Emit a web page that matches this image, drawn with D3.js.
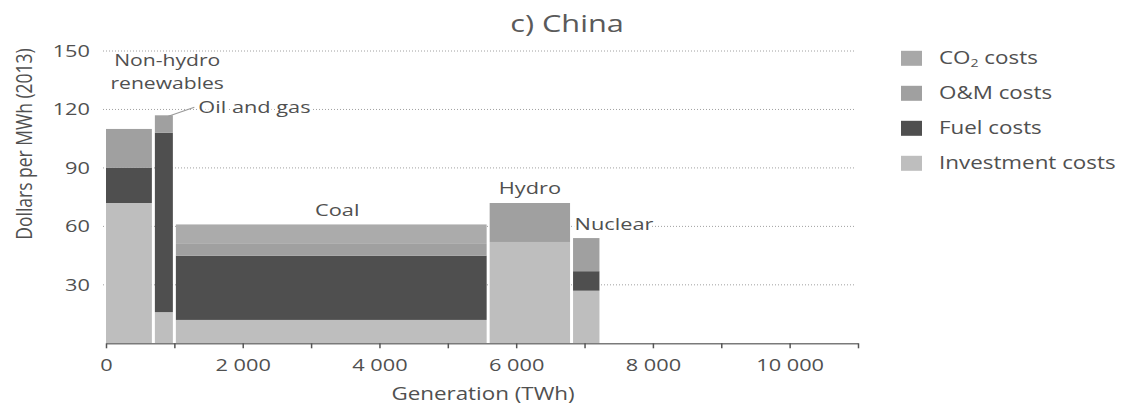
<!DOCTYPE html>
<html>
<head>
<meta charset="utf-8">
<script src="https://cdn.jsdelivr.net/npm/d3@7"></script>
<style>
  body { margin: 0; background: #fff; }
  text { font-family: "Open Sans", "DejaVu Sans", sans-serif; fill: #505050; }
</style>
</head>
<body>
<svg id="chart" width="1126" height="405"></svg>
<script>
// technologies, left to right along the generation axis
const techs = ["Non-hydro renewables", "Oil and gas", "Coal", "Hydro", "Nuclear"];
// generation (TWh) = bar widths
const generation = [693, 307, 4590, 1220, 430];
// cost components, dollars per MWh (2013)
const investment = [72, 16, 12, 52, 27];
const fuel       = [18, 92, 33, 0, 10];
const om         = [20, 9, 6, 20, 17];
const co2        = [0, 0, 10, 0, 0];

const yTicks = [30, 60, 90, 120, 150];
const legendLabels = ["CO2 costs", "O&M costs", "Fuel costs", "Investment costs"];

const SX = 1.28; // the reference is stretched sideways
const svg = d3.select("#chart");

const x = d3.scaleLinear().domain([0, 11000]).range([106, 858]);
const y = d3.scaleLinear().domain([0, 150]).range([343.3, 51]);

const series = [
  { key: "investment", vals: investment, color: "#bebebe" },
  { key: "fuel", vals: fuel, color: "#4f4f4f" },
  { key: "om", vals: om, color: "#a0a0a0" },
  { key: "co2", vals: co2, color: "#ababab" }
];

function label(sel, px, py, str, anchor, size) {
  return sel.append("text")
    .attr("transform", `translate(${px},${py}) scale(${SX},1)`)
    .attr("text-anchor", anchor)
    .attr("font-size", size)
    .text(str);
}

// grid
svg.append("g").selectAll("line")
  .data(yTicks).enter()
  .append("line")
  .attr("x1", x(0) - 3).attr("x2", x(11000) - 2)
  .attr("y1", d => y(d)).attr("y2", d => y(d))
  .attr("stroke", "#a0a0a0")
  .attr("stroke-width", 1)
  .attr("stroke-dasharray", "1,2");

// y tick labels
yTicks.forEach(v => label(svg, 90, y(v) + 6, v, "end", 17));

// bars
const ends = d3.cumsum(generation);
const starts = generation.map((g, i) => ends[i] - g);
const totals = techs.map((t, i) => d3.sum(series, s => s.vals[i]));

const bars = svg.append("g");
techs.forEach((t, i) => {
  let base = 0;
  const x0 = x(starts[i]) + (i ? 1.5 : 0);
  const x1 = x(ends[i]) - 1.5;
  series.forEach(s => {
    const v = s.vals[i];
    if (v > 0) {
      bars.append("rect")
        .attr("x", x0).attr("width", x1 - x0)
        .attr("y", y(base + v)).attr("height", y(base) - y(base + v))
        .attr("fill", s.color);
    }
    base += v;
  });
});

// x axis
const fmt = d3.formatLocale({ decimal: ".", thousands: " ", grouping: [3], currency: ["", ""] }).format(",");
const xAxis = svg.append("g")
  .attr("transform", `translate(0,${y(0)})`)
  .call(d3.axisBottom(x)
    .tickValues(d3.range(0, 11001, 1000))
    .tickFormat(d => d % 2000 ? "" : fmt(d))
    .tickSize(5).tickSizeOuter(0));
xAxis.select(".domain").attr("stroke", "#7a7a7a").attr("stroke-width", 1.5);
xAxis.selectAll(".tick line").attr("stroke", "#555").attr("stroke-width", 1.5);
xAxis.selectAll(".tick text")
  .attr("y", 28).attr("dy", 0)
  .attr("font-size", 17)
  .attr("font-family", null)
  .attr("fill", "#505050")
  .attr("transform", `scale(${SX},1)`);

// title and axis titles
label(svg, 567, 31.5, "c) China", "middle", 24).attr("font-family", "DejaVu Sans").style("fill", "#5a5a5a");
label(svg, 483, 400, "Generation (TWh)", "middle", 17.5);
svg.append("text")
  .attr("transform", `translate(32,144) scale(${SX},1) rotate(-90)`)
  .attr("text-anchor", "middle")
  .attr("font-size", 17.5)
  .text("Dollars per MWh (2013)");

// bar labels
const halo = sel => sel.attr("stroke", "#fff").attr("stroke-width", 4).attr("paint-order", "stroke");
const nhX = (x(starts[0]) + x(ends[1])) / 2 + 27;
label(svg, nhX, 66, "Non-hydro", "middle", 16.5);
label(svg, nhX, 88.5, "renewables", "middle", 16.5);

svg.append("line")
  .attr("x1", x(ends[1]) - 6).attr("y1", y(totals[1]) + 1)
  .attr("x2", x(ends[1]) + 20).attr("y2", y(totals[1]) - 8)
  .attr("stroke", "#9a9a9a").attr("stroke-width", 1.2);
label(svg, x(ends[1]) + 24, y(totals[1]) - 2.5, "Oil and gas", "start", 17).call(halo);

label(svg, (x(starts[2]) + x(ends[2])) / 2 + 6, y(totals[2]) - 8, "Coal", "middle", 17);
label(svg, (x(starts[3]) + x(ends[3])) / 2, y(totals[3]) - 9, "Hydro", "middle", 17);
label(svg, x(starts[4]) + 3, y(totals[4]) - 8, "Nuclear", "start", 17).call(halo);

// legend
const legendColors = ["#a8a8a8", "#a0a0a0", "#4f4f4f", "#bebebe"];
const legend = svg.append("g");
legendLabels.forEach((name, i) => {
  const cy = 58.3 + i * 35;
  legend.append("rect")
    .attr("x", 901).attr("y", cy - 7.5)
    .attr("width", 21).attr("height", 15)
    .attr("fill", legendColors[i]);
  const t = legend.append("text")
    .attr("transform", `translate(939,${cy + 6}) scale(${SX},1)`)
    .attr("font-size", 17.5);
  if (name.startsWith("CO2")) {
    t.append("tspan").text("CO");
    t.append("tspan").attr("font-size", 11).attr("dy", 3).text("2");
    t.append("tspan").attr("dy", -3).text(" costs");
  } else {
    t.text(name);
  }
});
</script>
</body>
</html>
